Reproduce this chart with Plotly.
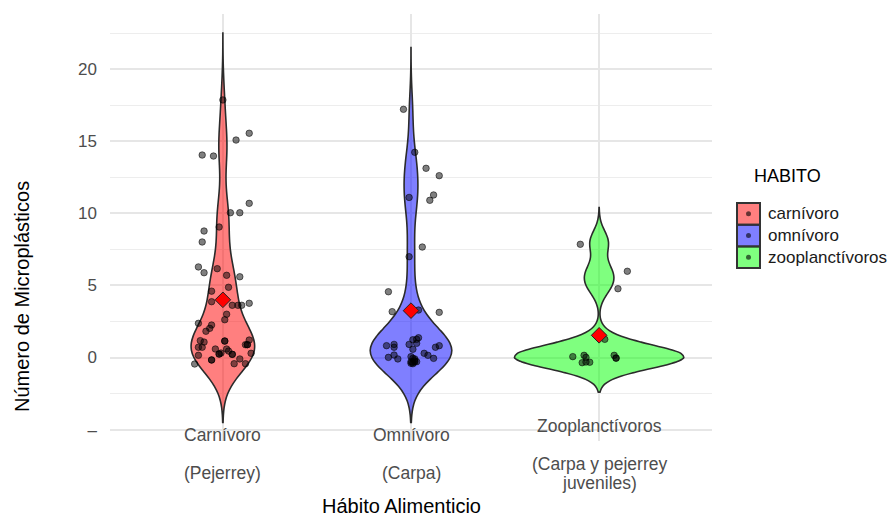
import numpy as np
import plotly.graph_objects as go

# Microplastic counts per fish, grouped by feeding habit
habitos = ["carnívoro", "omnívoro", "zooplanctívoros"]
etiquetas = [
    ["Carnívoro", "", "(Pejerrey)"],
    ["Omnívoro", "", "(Carpa)"],
    ["Zooplanctívoros", "", "(Carpa y pejerrey", "juveniles)"],
]

carnivoro = [18, 16, 15, 14, 14, 11, 10, 10, 9, 9, 8,
             6, 6, 6, 6, 6, 5, 5, 4, 4, 4, 4, 4, 3, 3,
             2, 2, 2, 2, 1, 1, 1, 1, 1, 1, 1, 1, 1, 1,
             0, 0, 0, 0, 0, 0, 0, 0, 0, 0, 0,
             0, 1, 0, 1, 0]
omnivoro = [17, 14, 13, 13, 11, 11, 11, 8, 7, 5, 3, 3, 3,
            1, 1, 1, 1, 1, 1, 1, 1, 1, 1, 1,
            0, 0, 0, 0, 0, 0, 0, 0, 0, 0, 0, 0, 0, 0, 0, 0]
zooplanctivoro = [8, 6, 5, 1, 0, 0, 0, 0, 0, 0, 0, 0, 0]

# horizontal / vertical jitter applied to each plotted fish
jitter_x_carn = [0.00, 0.14, 0.07, -0.11, -0.05, 0.14, 0.04, 0.09, -0.02, -0.10, -0.11,
                 -0.13, -0.10, -0.03, 0.02, 0.09, 0.03, -0.06, -0.06, 0.05, 0.08, 0.10, 0.14, 0.02, 0.01,
                 -0.13, -0.06, -0.07, -0.09, -0.12, -0.10, 0.01, 0.14, 0.13, 0.12, -0.13, -0.11, -0.04, 0.02,
                 0.03, -0.02, -0.01, 0.05, 0.09, 0.15, -0.13, -0.06, 0.06, 0.12, -0.15,
                 -0.02, 0.13, 0.05, 0.01, -0.06]
jitter_y_carn = [-0.14, -0.45, 0.08, 0.04, -0.03, -0.31, 0.04, 0.04, 0.05, -0.23, 0.01,
                 0.28, -0.12, 0.16, -0.30, -0.40, -0.13, -0.40, -0.13, -0.38, -0.38, -0.38, -0.24, 0.00, -0.38,
                 0.37, 0.25, 0.02, -0.18, 0.17, 0.07, 0.14, 0.21, -0.11, -0.11, -0.29, -0.29, -0.41, -0.41,
                 0.45, 0.24, 0.31, 0.22, -0.10, 0.29, 0.15, -0.17, -0.43, -0.43, -0.45,
                 0.24, -0.11, 0.22, 0.14, -0.17]
jitter_x_omni = [-0.04, 0.02, 0.08, 0.15, 0.12, 0.10, -0.01, 0.06, -0.01, -0.12, -0.10, 0.04, 0.15,
                 0.04, 0.03, 0.01, 0.03, -0.01, -0.13, -0.09, -0.09, 0.01, 0.13, 0.15,
                 -0.12, -0.09, -0.07, 0.07, 0.09, 0.12, 0.00, 0.01, 0.00, 0.02, 0.03, 0.01, 0.01, 0.02, 0.00, 0.02]
jitter_y_omni = [0.21, 0.23, 0.12, -0.39, 0.27, -0.10, 0.10, -0.34, -0.01, -0.44, 0.18, 0.29, 0.13,
                 0.37, 0.26, 0.23, -0.02, -0.09, -0.18, -0.09, -0.29, -0.43, -0.29, -0.18,
                 0.01, 0.17, -0.10, 0.29, 0.15, -0.06, 0.06, -0.06, -0.29, -0.22, -0.29, -0.43, -0.35, -0.30, -0.40, -0.10]
jitter_x_zoo = [-0.10, 0.15, 0.10, 0.03, -0.14, -0.08, -0.07, -0.09, -0.07, -0.05, 0.08, 0.09, 0.09]
jitter_y_zoo = [-0.15, -0.02, -0.23, 0.26, 0.06, 0.15, 0.01, -0.36, -0.31, -0.33, 0.15, -0.03, -0.05]

grupos = [carnivoro, omnivoro, zooplanctivoro]
jitters = [(jitter_x_carn, jitter_y_carn), (jitter_x_omni, jitter_y_omni), (jitter_x_zoo, jitter_y_zoo)]
anchos_banda = [1.5, 1.5, 0.8]
rellenos = ["rgba(255,0,0,0.5)", "rgba(0,0,255,0.5)", "rgba(0,255,0,0.5)"]

FONT = "Liberation Sans, Arial, sans-serif"
W, H = 889, 516
L, R, T, B = 110, 712, 14, 441  # plot panel in pixels


def px_x(px):
    return (px - L) / (R - L)


def px_y(py):
    return (B - py) / (B - T)


fig = go.Figure()

for i, (vals, bw, fill) in enumerate(zip(grupos, anchos_banda, rellenos)):
    pos = i + 1
    fig.add_trace(go.Violin(
        x=[pos] * len(vals), y=vals, name=habitos[i],
        bandwidth=bw, spanmode="manual",
        span=[min(vals) - 3 * bw, max(vals) + 3 * bw],
        fillcolor=fill, line=dict(color="#2B2B2B", width=1.6),
        points=False, scalegroup="habito", scalemode="width",
        showlegend=False, hoverinfo="skip",
    ))

for i, (vals, (jx, jy)) in enumerate(zip(grupos, jitters)):
    pos = i + 1
    fig.add_trace(go.Scatter(
        x=[pos + dx for dx in jx], y=[v + dy for v, dy in zip(vals, jy)],
        mode="markers", showlegend=False, hoverinfo="skip",
        marker=dict(size=6.5, color="rgba(0,0,0,0.5)",
                    line=dict(color="rgba(0,0,0,0.6)", width=0.9)),
    ))

medias = [float(np.mean(v)) for v in grupos]
fig.add_trace(go.Scatter(
    x=[1, 2, 3], y=medias, mode="markers", showlegend=False, hoverinfo="skip",
    marker=dict(symbol="diamond", size=12, color="#FF0000",
                line=dict(color="#222222", width=1)),
))

y_ticks = [-5, 0, 5, 10, 15, 20]
y_ticktext = ["–", "0", "5", "10", "15", "20"]
y_minor = [-2.5, 2.5, 7.5, 12.5, 17.5, 22.5]

fig.update_layout(
    width=W, height=H,
    margin=dict(l=L, r=W - R, t=T, b=H - B),
    paper_bgcolor="white", plot_bgcolor="white",
    font=dict(family=FONT),
    violinmode="overlay", violingap=0.1, violingroupgap=0,
    showlegend=False,
    xaxis=dict(
        range=[0.4, 3.6], tickvals=[1, 2, 3], showticklabels=False,
        showgrid=True, gridcolor="#E6E6E6", gridwidth=1.5,
        zeroline=False, showline=False, ticks="",
    ),
    yaxis=dict(
        range=[-5.79, 23.82], tickmode="array", tickvals=y_ticks, ticktext=y_ticktext,
        showgrid=True, gridcolor="#E6E6E6", gridwidth=1.5,
        minor=dict(tickvals=y_minor, showgrid=True, gridcolor="#EDEDED", gridwidth=1),
        zeroline=False, showline=False, ticks="", ticklabelstandoff=12,
        tickfont=dict(size=17, color="#4D4D4D", family=FONT),
    ),
)

annotations = []
# category labels, each line centred as a block under its violin
line_step = 19
for i, lines in enumerate(etiquetas):
    n = len(lines)
    for k, txt in enumerate(lines):
        if not txt:
            continue
        centre = 454 + (k - (n - 1) / 2) * line_step
        annotations.append(dict(
            x=i + 1, xref="x", y=px_y(centre), yref="paper",
            text=txt, showarrow=False, xanchor="center", yanchor="middle",
            font=dict(size=17.5, color="#4D4D4D", family=FONT),
        ))

annotations.append(dict(
    x=px_x(401), y=px_y(506), xref="paper", yref="paper",
    text="Hábito Alimenticio", showarrow=False, xanchor="center", yanchor="middle",
    font=dict(size=20, color="#000000", family=FONT),
))
annotations.append(dict(
    x=px_x(22), y=px_y(296), xref="paper", yref="paper", textangle=-90,
    text="Número de Microplásticos", showarrow=False, xanchor="center", yanchor="middle",
    font=dict(size=20, color="#000000", family=FONT),
))

# legend drawn as keys + labels
annotations.append(dict(
    x=px_x(752), y=px_y(176), xref="paper", yref="paper",
    text="HABITO", showarrow=False, xanchor="left", yanchor="middle",
    font=dict(size=18, color="#000000", family=FONT),
))
shapes = []
key_top, key_h = 203, 21.7
for i, (lab, fill) in enumerate(zip(habitos, rellenos)):
    y0 = key_top + i * key_h
    shapes.append(dict(
        type="rect", xref="paper", yref="paper",
        x0=px_x(737), x1=px_x(760), y0=px_y(y0 + key_h), y1=px_y(y0),
        fillcolor=fill, line=dict(color="#333333", width=2),
    ))
    cy = y0 + key_h / 2
    shapes.append(dict(
        type="circle", xref="paper", yref="paper",
        x0=px_x(746), x1=px_x(751), y0=px_y(cy + 2.5), y1=px_y(cy - 2.5),
        fillcolor="rgba(0,0,0,0.6)", line=dict(width=0),
    ))
    annotations.append(dict(
        x=px_x(766), y=px_y(cy), xref="paper", yref="paper",
        text=lab, showarrow=False, xanchor="left", yanchor="middle",
        font=dict(size=17, color="#1A1A1A", family=FONT),
    ))

fig.update_layout(annotations=annotations, shapes=shapes)

fig.write_html("out.html")
